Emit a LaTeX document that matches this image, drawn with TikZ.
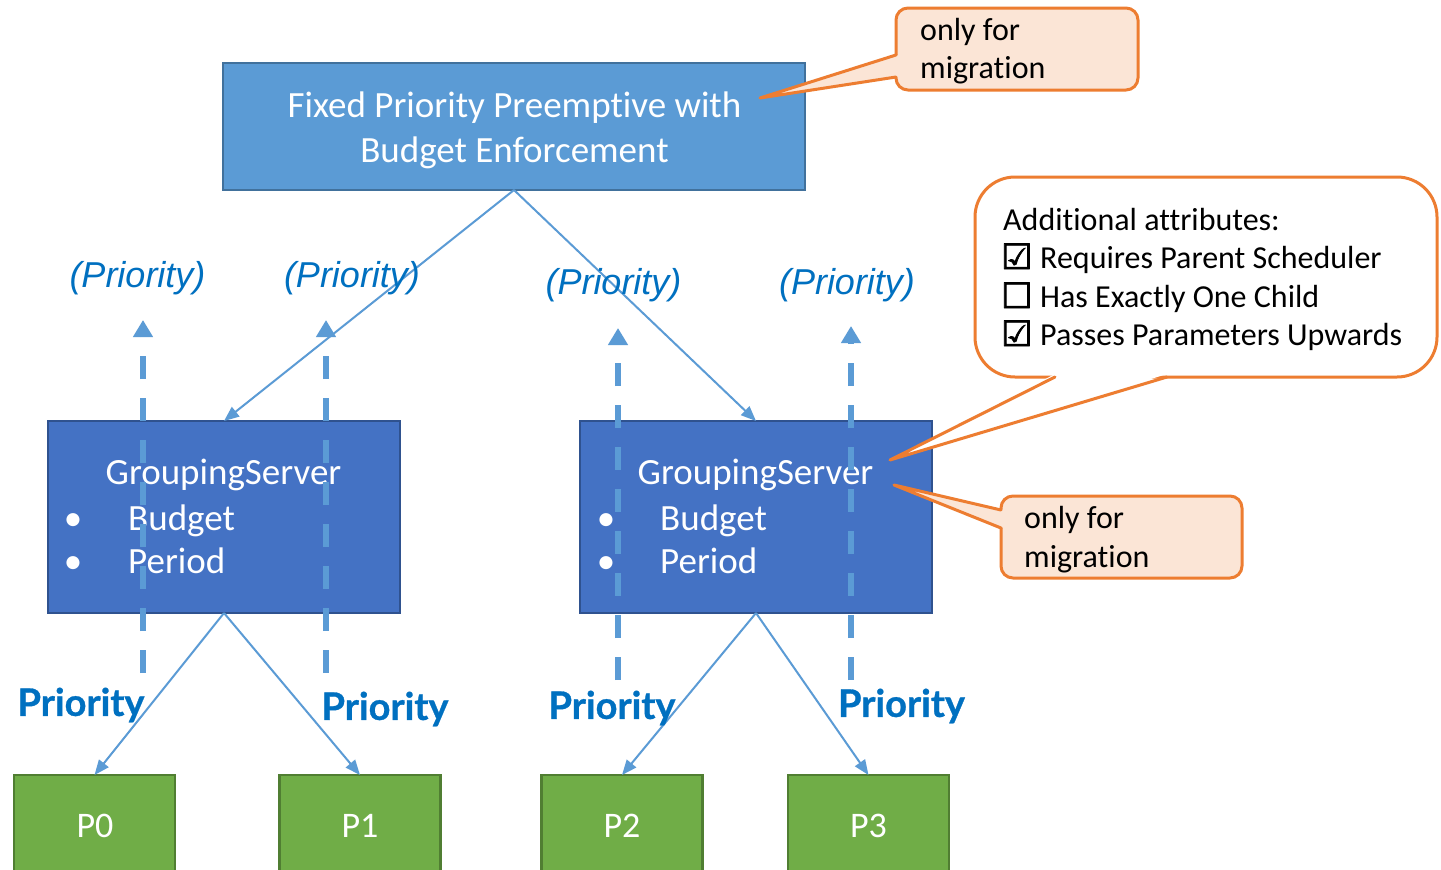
\documentclass[tikz,border=0pt]{standalone}
\usepackage{fontspec}
\setmainfont{Carlito}[Ligatures=NoCommon]
\newfontfamily\arialfont{Liberation Sans}
\newfontfamily\latofont{Lato}[BoldFeatures={FakeBold=0.8}]
\newfontfamily\dejavu{DejaVu Sans}[FakeBold=2]
\usetikzlibrary{arrows.meta}
\definecolor{topfill}{HTML}{5B9BD5}
\definecolor{topdraw}{HTML}{41719C}
\definecolor{gsfill}{HTML}{4472C4}
\definecolor{gsdraw}{HTML}{2F528F}
\definecolor{pfill}{HTML}{70AD47}
\definecolor{pdraw}{HTML}{507E32}
\definecolor{linec}{HTML}{5B9BD5}
\definecolor{orangec}{HTML}{ED7D31}
\definecolor{peach}{HTML}{FBE5D6}
\definecolor{prioc}{HTML}{0070C0}
\tikzset{
 boxbase/.style={rectangle, line width=2.5pt, inner sep=0pt, outer sep=0pt},
 topbox/.style={boxbase, fill=topfill, draw=topdraw, minimum width=582pt, minimum height=127pt},
 gsbox/.style={boxbase, fill=gsfill, draw=gsdraw, minimum width=352pt, minimum height=192pt},
 pbox/.style={boxbase, fill=pfill, draw=pdraw, minimum width=161pt, minimum height=130pt, anchor=north},
 wtxt/.style={inner sep=0pt, text=white, font=\fontsize{37}{45}\selectfont},
 ptxt/.style={inner sep=0pt, text=white, font=\fontsize{36}{43}\selectfont, anchor=base},
 conn/.style={draw=linec, line width=2pt, -{Triangle[length=15pt,width=12pt]}},
 upconn/.style={draw=linec, line width=6pt, dash pattern=on 23pt off 19pt, -{Triangle[length=17pt,width=19pt]}},
 itlbl/.style={inner sep=0pt, text=prioc, font=\arialfont\itshape\fontsize{36}{43}\selectfont},
 bdlbl/.style={inner sep=0pt, text=prioc, font=\latofont\bfseries\fontsize{38}{45}\selectfont},
 callrect/.style={rectangle, rounded corners=12pt, draw=orangec, line width=3pt, fill=peach, inner sep=0pt, outer sep=0pt},
 callptr/.style={draw=orangec, line width=3pt, line join=round, line cap=round},
 ctxt/.style={inner sep=0pt, text=black, font=\fontsize{32}{38}\selectfont, anchor=base west},
 cbox/.style={inner sep=0pt, text=black, font=\dejavu\fontsize{35}{40}\selectfont, anchor=base west},
}
\begin{document}
\begin{tikzpicture}[x=1pt,y=-1pt]
\useasboundingbox (0,0) rectangle (1441,870);
\clip (0,0) rectangle (1441,870);
\fill[white] (0,0) rectangle (1441,870);

% boxes
\node[topbox] (top) at (514,126.5) {};
\node[gsbox] (gsl) at (224,517) {};
\node[gsbox] (gsr) at (756,517) {};
\node[pbox] (p0) at (94.5,775) {};
\node[pbox] (p1) at (360,775) {};
\node[pbox] (p2) at (622,775) {};
\node[pbox] (p3) at (868.5,775) {};

% solid connectors
\draw[conn] (top.south) -- (gsl.north);
\draw[conn] (top.south) -- (gsr.north);
\draw[conn] (gsl.south) -- (p0.north);
\draw[conn] (gsl.south) -- (p1.north);
\draw[conn] (gsr.south) -- (p2.north);
\draw[conn] (gsr.south) -- (p3.north);

% box texts
\node[wtxt, anchor=base] (toptxt1) at (514.5,117) {Fixed Priority Preemptive with};
\node[wtxt, anchor=base] (toptxt2) at (514.5,162) {Budget Enforcement};

\node[wtxt, anchor=base] (gsltitle) at (223.5,484) {GroupingServer};
\node[wtxt, anchor=base] (gslb1) at (73,530) {•};
\node[wtxt, anchor=base] (gslb2) at (73,573) {•};
\node[wtxt, anchor=base west] (gslbud) at (128,530) {Budget};
\node[wtxt, anchor=base west] (gslper) at (128,573) {Period};

\node[wtxt, anchor=base] (gsrtitle) at (755.5,484) {GroupingServer};
\node[wtxt, anchor=base] (gsrb1) at (606,530) {•};
\node[wtxt, anchor=base] (gsrb2) at (606,573) {•};
\node[wtxt, anchor=base west] (gsrbud) at (660,530) {Budget};
\node[wtxt, anchor=base west] (gsrper) at (660,573) {Period};

\node[ptxt] (p0t) at (95,837) {P0};
\node[ptxt] (p1t) at (360,837) {P1};
\node[ptxt] (p2t) at (622,837) {P2};
\node[ptxt] (p3t) at (868.5,837) {P3};

% dashed upward connectors
\coordinate (d1s) at (143,673); \coordinate (d1e) at (143,320);
\coordinate (d2s) at (326,673); \coordinate (d2e) at (326,320);
\coordinate (d3s) at (618,680); \coordinate (d3e) at (618,328);
\coordinate (d4s) at (851,680); \coordinate (d4e) at (851,326);
\draw[upconn] (d1s) -- (d1e);
\draw[upconn] (d2s) -- (d2e);
\draw[upconn] (d3s) -- (d3e);
\draw[upconn] (d4s) -- (d4e);

% labels
\node[itlbl] (il1) at (137.5,278) {(Priority)};
\node[itlbl] (il2) at (352,278) {(Priority)};
\node[itlbl] (il3) at (613.5,285) {(Priority)};
\node[itlbl] (il4) at (847,285) {(Priority)};
\node[bdlbl] (bl1) at (81,705) {Priority};
\node[bdlbl] (bl2) at (385,709) {Priority};
\node[bdlbl] (bl3) at (612,708) {Priority};
\node[bdlbl] (bl4) at (901.5,706) {Priority};

% callout 1
\node[callrect, minimum width=242pt, minimum height=82pt] (c1) at (1017,49) {};
\coordinate (c1a) at (896,55); \coordinate (c1b) at (896,77); \coordinate (c1tip) at (760,98);
\fill[peach] ([xshift=3pt]c1a) -- (c1tip) -- ([xshift=3pt]c1b) -- cycle;
\draw[callptr] (c1a) -- (c1tip) -- (c1b);
\node[ctxt] (c1t1) at (920,40) {only for};
\node[ctxt] (c1t2) at (920,78) {migration};

% callout 2
\node[callrect, fill=white, rounded corners=40pt, minimum width=462pt, minimum height=200pt] (c2) at (1206,277) {};
\coordinate (c2a) at (1055,377); \coordinate (c2b) at (1167,377); \coordinate (c2tip) at (890,460);
\fill[white] ([yshift=3pt]c2a) -- (c2tip) -- ([yshift=3pt]c2b) -- cycle;
\draw[callptr] (c2a) -- (c2tip) -- (c2b);
\node[ctxt] (c2t0) at (1003,230) {Additional attributes:};
\node[cbox] (cb1) at (1001,269) {☑};
\node[cbox] (cb2) at (1001,308) {☐};
\node[cbox] (cb3) at (1001,346) {☑};
\node[ctxt] (c2t1) at (1040,268) {Requires Parent Scheduler};
\node[ctxt] (c2t2) at (1040,307) {Has Exactly One Child};
\node[ctxt] (c2t3) at (1040,345) {Passes Parameters Upwards};

% callout 3
\node[callrect, minimum width=241pt, minimum height=82pt] (c3) at (1121.5,537) {};
\coordinate (c3a) at (1001,510); \coordinate (c3b) at (1001,528); \coordinate (c3tip) at (894,485);
\fill[peach] ([xshift=3pt]c3a) -- (c3tip) -- ([xshift=3pt]c3b) -- cycle;
\draw[callptr] (c3a) -- (c3tip) -- (c3b);
\node[ctxt] (c3t1) at (1024,528) {only for};
\node[ctxt] (c3t2) at (1024,567) {migration};
\end{tikzpicture}
\end{document}
